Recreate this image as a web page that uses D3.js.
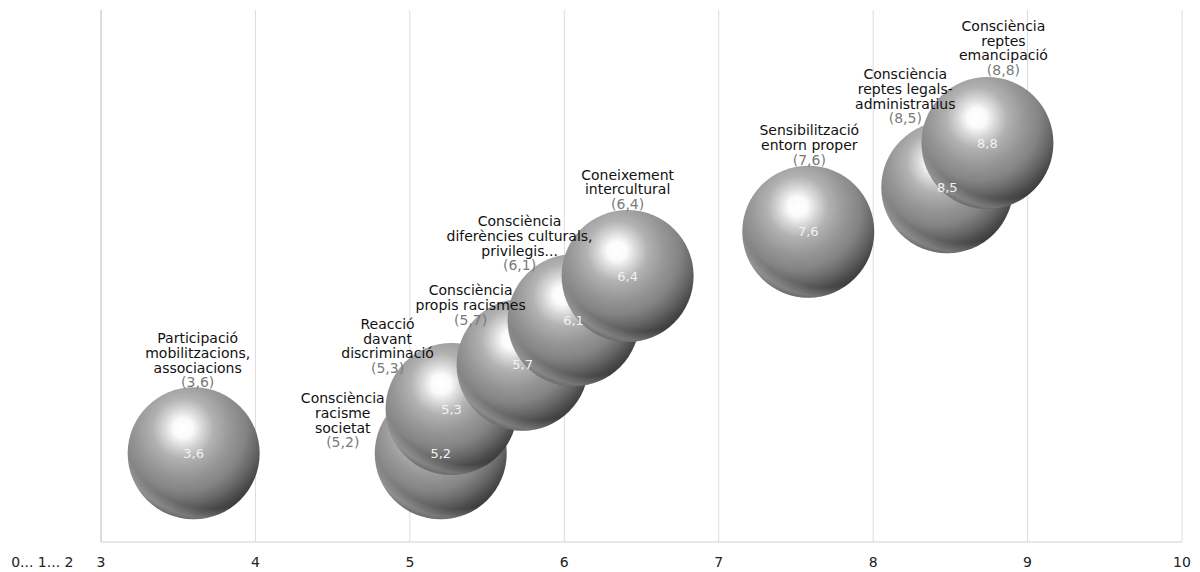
<!DOCTYPE html>
<html>
<head>
<meta charset="utf-8">
<script src="https://cdn.jsdelivr.net/npm/d3@7"></script>
<style>
  html, body { margin: 0; padding: 0; background: #fff; }
  svg { display: block; font-family: "DejaVu Sans", Verdana, sans-serif; }
</style>
</head>
<body>
<svg id="chart" width="1200" height="572"></svg>
<script>
// ---- data ----
const categories = [
  ["Participació", "mobilitzacions,", "associacions"],
  ["Consciència", "racisme", "societat"],
  ["Reacció", "davant", "discriminació"],
  ["Consciència", "propis racismes"],
  ["Consciència", "diferències culturals,", "privilegis..."],
  ["Coneixement", "intercultural"],
  ["Sensibilització", "entorn proper"],
  ["Consciència", "reptes legals-", "administratius"],
  ["Consciència", "reptes", "emancipació"]
];
const xValues = [3.6, 5.2, 5.27, 5.73, 6.06, 6.41, 7.58, 8.48, 8.74];
const valueLabels = ["3,6", "5,2", "5,3", "5,7", "6,1", "6,4", "7,6", "8,5", "8,8"];
const yValues = [2, 2, 3, 4, 5, 6, 7, 8, 9];
const bubbleSizes = [1, 1, 1, 1, 1, 1, 1, 1, 1];
const tickValues = [2.62, 3, 4, 5, 6, 7, 8, 9, 10];
const tickLabels = ["0... 1... 2", "3", "4", "5", "6", "7", "8", "9", "10"];
const gridValues = [3, 4, 5, 6, 7, 8, 9, 10];

// ---- layout (not data) ----
const labelOffsets = [
  [4, -71], [-98, -11], [-64, -41], [-52, -45], [-54, -55],
  [0, -72], [1, -72], [-42, -69], [16, -73]
];

const svg = d3.select("#chart");
const x = d3.scaleLinear().domain([3, 10]).range([101, 1182]);
const y = d3.scaleLinear().domain([0, 12]).range([542, 10]);
const r = d3.scaleSqrt().domain([0, d3.max(bubbleSizes)]).range([0, 66]);

const defs = svg.append("defs");
const g1 = defs.append("radialGradient").attr("id", "sphere")
  .attr("cx", 0.42).attr("cy", 0.31).attr("fx", 0.42).attr("fy", 0.31).attr("r", 0.72);
[[0, "#ffffff"], [0.1, "#fbfbfb"], [0.2, "#d8d8d8"], [0.32, "#b2b2b2"],
 [0.5, "#979797"], [0.66, "#848484"], [0.8, "#656565"], [0.9, "#4a4a4a"], [1, "#363636"]]
  .forEach(([o, c]) => g1.append("stop").attr("offset", o).attr("stop-color", c));
const g2 = defs.append("radialGradient").attr("id", "rim")
  .attr("cx", 0.62).attr("cy", 0.25).attr("fx", 0.62).attr("fy", 0.25).attr("r", 0.78);
[[0, 0], [0.86, 0], [0.95, 0.28], [1, 0.2]]
  .forEach(([o, a]) => g2.append("stop").attr("offset", o).attr("stop-color", "#ffffff").attr("stop-opacity", a));

// gridlines
svg.append("g").selectAll("line").data(gridValues).join("line")
  .attr("x1", d => x(d)).attr("x2", d => x(d))
  .attr("y1", y(12)).attr("y2", y(0))
  .attr("stroke", d => d === 3 ? "#d0d0d0" : "#dcdcdc")
  .attr("stroke-width", d => d === 3 ? 1.5 : 1);

// x axis baseline
svg.append("line")
  .attr("x1", x(3)).attr("x2", x(10)).attr("y1", y(0)).attr("y2", y(0))
  .attr("stroke", "#d0d0d0").attr("stroke-width", 1);

// tick labels
svg.append("g").selectAll("text").data(tickValues).join("text")
  .attr("x", d => x(d)).attr("y", y(0) + 25)
  .attr("text-anchor", "middle")
  .attr("font-size", 14).attr("fill", "#222")
  .text((d, i) => tickLabels[i]);

const data = xValues.map((v, i) => ({
  x: v, y: yValues[i], s: bubbleSizes[i], lab: valueLabels[i], cat: categories[i], off: labelOffsets[i]
}));

// bubbles
const bub = svg.append("g").selectAll("g").data(data).join("g")
  .attr("transform", d => `translate(${x(d.x)},${y(d.y)})`);
bub.append("circle").attr("r", d => r(d.s)).attr("fill", "url(#sphere)");
bub.append("circle").attr("r", d => r(d.s)).attr("fill", "url(#rim)");

// inner value labels (on top of all bubbles)
svg.append("g").selectAll("text").data(data).join("text")
  .attr("x", d => x(d.x)).attr("y", d => y(d.y))
  .attr("text-anchor", "middle").attr("dy", "0.36em")
  .attr("font-size", 13).attr("fill", "#f2f2f2")
  .text(d => d.lab);

// outer labels
const lh = 14.7;
const lab = svg.append("g").selectAll("text").data(data).join("text")
  .attr("text-anchor", "middle")
  .attr("font-size", 14)
  .attr("transform", d => `translate(${x(d.x) + d.off[0]},${y(d.y) + d.off[1]})`);
lab.each(function(d) {
  const t = d3.select(this);
  const n = d.cat.length;
  d.cat.forEach((line, i) => {
    t.append("tspan").attr("x", 0).attr("y", -(n - i) * lh).attr("dy", "0.36em")
      .attr("fill", "#111").text(line);
  });
  t.append("tspan").attr("x", 0).attr("y", 0).attr("dy", "0.36em")
    .attr("fill", "#7a7a7a").text("(" + d.lab + ")");
});
</script>
</body>
</html>
